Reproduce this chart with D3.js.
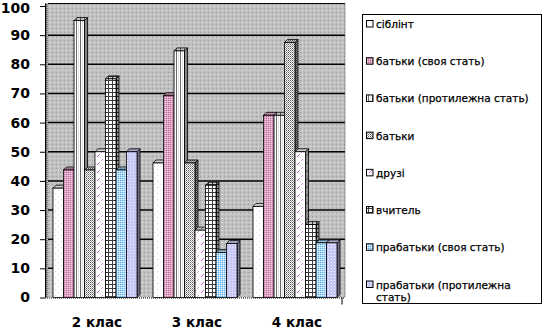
<!DOCTYPE html>
<html>
<head>
<meta charset="utf-8">
<script src="https://cdnjs.cloudflare.com/ajax/libs/d3/7.8.5/d3.min.js"></script>
<style>
  html, body { margin: 0; padding: 0; background: #fff; }
  svg { display: block; }
</style>
</head>
<body>
<svg id="chart" width="544" height="329"></svg>
<script>
// Class groups along the x axis
const categories = ["2 клас", "3 клас", "4 клас"];

// Series names (legend order)
const seriesNames = [
  "сіблінт",
  "батьки (своя стать)",
  "батьки (протилежна  стать)",
  "батьки",
  "друзі",
  "вчитель",
  "прабатьки (своя стать)",
  "прабатьки (протилежна стать)"
];

// Values per series, one per class
const sibling        = [37.5, 46.15, 31.25];
const parentsSame    = [43.75, 69.2, 62.5];
const parentsOpp     = [95, 84.6, 62.5];
const parents        = [43.75, 46.15, 87.5];
const friends        = [50, 23.1, 50];
const teacher        = [75, 38.5, 25];
const grandSame      = [43.75, 15.4, 18.75];
const grandOpp       = [50, 18.5, 18.75];

const seriesValues = [sibling, parentsSame, parentsOpp, parents, friends, teacher, grandSame, grandOpp];

const yTicks = [0, 10, 20, 30, 40, 50, 60, 70, 80, 90, 100];

const svg = d3.select("#chart");
const defs = svg.append("defs");

// ---- fill patterns --------------------------------------------------------
function pattern(id, w, h, bg, draw) {
  const p = defs.append("pattern").attr("id", id)
    .attr("patternUnits", "userSpaceOnUse").attr("width", w).attr("height", h);
  if (bg) p.append("rect").attr("width", w).attr("height", h).attr("fill", bg);
  draw(p);
}
function px(p, x, y, c) { p.append("rect").attr("x", x).attr("y", y).attr("width", 1).attr("height", 1).attr("fill", c); }

// stipple for the walls (drawn over a solid grey)
pattern("wallDots", 4, 4, null, p => { px(p, 0, 0, "#9c9c9c"); px(p, 2, 2, "#e4e4e4"); });
pattern("sideDots", 2, 2, null, p => { px(p, 0, 0, "#555"); px(p, 1, 1, "#b4b4b4"); });

pattern("p0", 6, 6, "#ffffff", p => { px(p, 1, 1, "#d0d0f4"); px(p, 4, 4, "#e0e0f8"); });
pattern("p1", 2, 2, "#e0a6c8", p => { px(p, 0, 0, "#b86a98"); px(p, 1, 1, "#f2c8e0"); });
pattern("p2", 4, 1, "#ffffff", p => { px(p, 0, 0, "#6a6a6a"); px(p, 2, 0, "#e4e4e4"); });
pattern("p3", 2, 2, "#ffffff", p => { px(p, 0, 0, "#5a5a5a"); px(p, 1, 1, "#9a9a9a"); });
pattern("p4", 8, 8, "#ffffff", p => {
  px(p, 1, 4, "#c060c0"); px(p, 2, 3, "#d070d0"); px(p, 3, 2, "#c060c0");
  px(p, 5, 0, "#e0a0e0"); px(p, 6, 7, "#e0a0e0");
});
pattern("p5", 4, 4, "#ffffff", p => {
  p.append("rect").attr("x", 0).attr("y", 0).attr("width", 4).attr("height", 1).attr("fill", "#3a3a3a");
  p.append("rect").attr("x", 0).attr("y", 0).attr("width", 1).attr("height", 4).attr("fill", "#3a3a3a");
});
pattern("p6", 2, 2, "#a8d8f8", p => { px(p, 0, 0, "#6ab4ec"); px(p, 1, 1, "#e8f6ff"); });
pattern("p7", 3, 3, "#c8c8f6", p => { px(p, 1, 1, "#f0f0ff"); });

// ---- scales ---------------------------------------------------------------
const y = d3.scaleLinear().domain([0, 100]).range([297.5, 6]);
const x = d3.scaleBand().domain(categories).range([45, 345]).paddingInner(0.16).paddingOuter(0.08);
const xs = d3.scaleBand().domain(d3.range(seriesNames.length)).range([0, x.bandwidth()]);
const depth = 3;

// ---- walls ------------------------------------------------------------------
const wallL = 48, wallR = 345, wallT = 3.5, wallB = y(0);
svg.append("rect").attr("x", wallL).attr("y", wallT).attr("width", wallR - wallL).attr("height", wallB - wallT)
  .attr("fill", "#c0c0c0");
svg.append("rect").attr("x", wallL).attr("y", wallT).attr("width", wallR - wallL).attr("height", wallB - wallT)
  .attr("fill", "url(#wallDots)");
svg.append("rect").attr("x", 45).attr("y", wallT).attr("width", wallL - 45).attr("height", wallB - wallT)
  .attr("fill", "#8a8a8a");
svg.append("rect").attr("x", 45).attr("y", wallT).attr("width", wallL - 45).attr("height", wallB - wallT)
  .attr("fill", "url(#sideDots)");

// top edge of the back wall
svg.append("line").attr("x1", wallL).attr("x2", wallR).attr("y1", wallT).attr("y2", wallT)
  .attr("stroke", "#000").attr("stroke-width", 1.2);

// gridlines on the back wall
svg.append("g").selectAll("line").data(yTicks.filter(d => d > 0 && d < 100)).join("line")
  .attr("x1", wallL).attr("x2", wallR)
  .attr("y1", d => y(d)).attr("y2", d => y(d))
  .attr("stroke", "#000").attr("stroke-width", 1.5);

// right edge and floor (dotted)
svg.append("line").attr("x1", wallR).attr("x2", wallR).attr("y1", wallT).attr("y2", wallB)
  .attr("stroke", "#555").attr("stroke-dasharray", "1,1");
svg.append("line").attr("x1", 45).attr("x2", wallR).attr("y1", wallB + 0.5).attr("y2", wallB + 0.5)
  .attr("stroke", "#000").attr("stroke-dasharray", "1,1");
svg.append("line").attr("x1", 342).attr("x2", 342).attr("y1", wallB).attr("y2", wallB + 7)
  .attr("stroke", "#000");

// ---- y axis -----------------------------------------------------------------
const yAxis = d3.axisLeft(y).tickValues(yTicks).tickSize(5).tickSizeOuter(0);
const gy = svg.append("g").attr("transform", "translate(45,0)").call(yAxis);
gy.select(".domain").attr("stroke", "#000").attr("d", `M0.5,${wallT}V${wallB}`);
gy.selectAll(".tick line").attr("stroke", "#000");
gy.selectAll(".tick text")
  .attr("x", -15)
  .attr("dy", d => d === 100 ? "0.45em" : "0.32em")
  .attr("font-family", "DejaVu Sans, Verdana, sans-serif")
  .attr("font-weight", "bold").attr("font-size", 14).attr("fill", "#000");

// ---- bars -------------------------------------------------------------------
const bars = [];
categories.forEach((c, ci) => {
  seriesValues.forEach((vals, si) => bars.push({ c, si, v: vals[ci] }));
});

const barG = svg.append("g");
bars.forEach(b => {
  const x0 = x(b.c) + xs(b.si);
  const w = xs.bandwidth();
  const yt = y(b.v), yb = y(0);
  const g = barG.append("g");
  const side = `M${x0 + w},${yt}L${x0 + w + depth},${yt - depth}L${x0 + w + depth},${yb - depth}L${x0 + w},${yb}Z`;
  const top = `M${x0},${yt}L${x0 + depth},${yt - depth}L${x0 + w + depth},${yt - depth}L${x0 + w},${yt}Z`;
  // side face
  g.append("path").attr("d", side)
    .attr("fill", `url(#p${b.si})`).attr("stroke", "#000").attr("stroke-width", 0.8);
  g.append("path").attr("d", side).attr("fill", "#000").attr("fill-opacity", 0.45);
  // top face
  g.append("path").attr("d", top)
    .attr("fill", `url(#p${b.si})`).attr("stroke", "#000").attr("stroke-width", 0.8);
  g.append("path").attr("d", top).attr("fill", "#000").attr("fill-opacity", 0.2);
  // front face
  g.append("rect").attr("x", x0).attr("y", yt).attr("width", w).attr("height", yb - yt)
    .attr("fill", `url(#p${b.si})`).attr("stroke", "#000").attr("stroke-width", 0.8);
});

// ---- x axis labels -------------------------------------------------------------
svg.append("g").selectAll("text").data(categories).join("text")
  .attr("x", d => x(d) + x.bandwidth() / 2 + 2)
  .attr("y", 327)
  .attr("text-anchor", "middle")
  .attr("font-family", "DejaVu Sans, Verdana, sans-serif")
  .attr("font-weight", "bold").attr("font-size", 13.5)
  .text(d => d);

// ---- legend -------------------------------------------------------------------
const legend = svg.append("g");
legend.append("rect").attr("x", 362.5).attr("y", 14.5).attr("width", 179).attr("height", 289)
  .attr("fill", "#fff").attr("stroke", "#000");
const legendLines = [
  ["сіблінт"], ["батьки (своя стать)"], ["батьки (протилежна  стать)"], ["батьки"],
  ["друзі"], ["вчитель"], ["прабатьки (своя стать)"], ["прабатьки (протилежна", "стать)"]
];
const ly = d3.scaleLinear().domain([0, 7]).range([24, 284.5]);
seriesNames.forEach((name, i) => {
  const cy = ly(i);
  legend.append("rect").attr("x", 366.5).attr("y", cy - 3.5).attr("width", 6.5).attr("height", 6.5)
    .attr("fill", `url(#p${i})`).attr("stroke", "#000").attr("stroke-width", 1);
  const t = legend.append("text")
    .attr("font-family", "DejaVu Sans, Verdana, sans-serif").attr("font-size", 10.5)
    .attr("fill", "#000").attr("stroke", "#000").attr("stroke-width", 0.25);
  legendLines[i].forEach((ln, k) => {
    t.append("tspan").attr("x", 376).attr("y", cy + 4 + k * 12.5).text(ln);
  });
});
</script>
</body>
</html>
